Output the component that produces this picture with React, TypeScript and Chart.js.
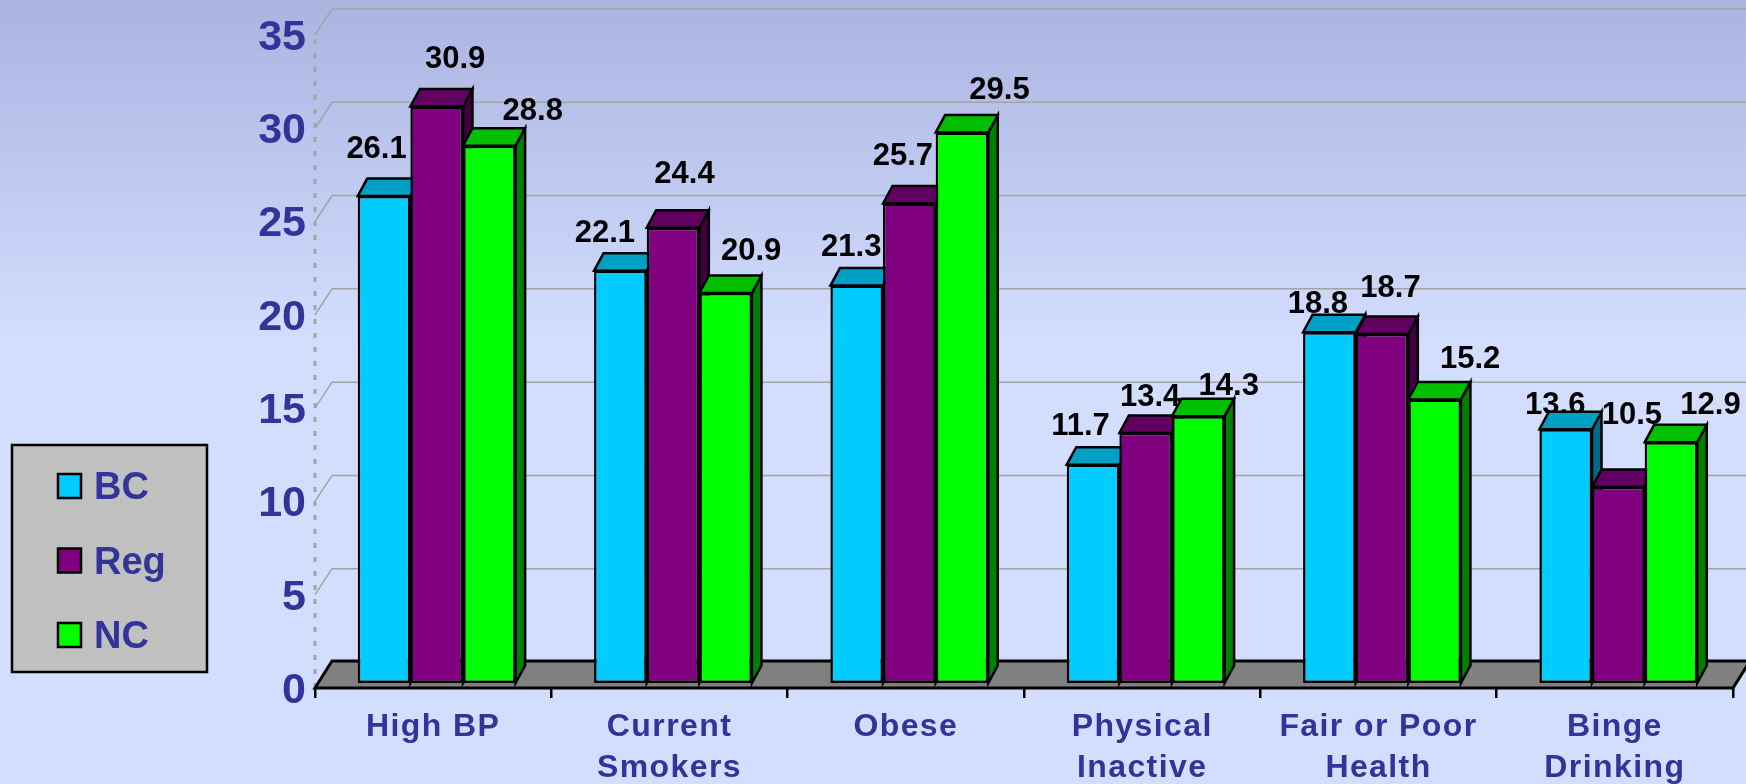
import React, { useEffect, useRef } from "react";
import { Chart, registerables } from "chart.js";

Chart.register(...registerables);

const categories = [
  "High BP",
  ["Current", "Smokers"],
  "Obese",
  ["Physical", "Inactive"],
  ["Fair or Poor", "Health"],
  ["Binge", "Drinking"],
];
const bcValues = [26.1, 22.1, 21.3, 11.7, 18.8, 13.6];
const regValues = [30.9, 24.4, 25.7, 13.4, 18.7, 10.5];
const ncValues = [28.8, 20.9, 29.5, 14.3, 15.2, 12.9];

// Hand-placed data label offsets from each bar's top centre, as in the source.
const bcLabelOffsets = [[-8, -48], [-16, -38], [-6, -39], [-13, -39], [-12, -29], [-11, -25]];
const regLabelOffsets = [[18, -48], [11, -54], [-7, -48], [4, -37], [8, -47], [13, -73]];
const ncLabelOffsets = [[43, -35], [25, -43], [37, -43], [30, -31], [35, -41], [39, -38]];

const FONT = "'Liberation Sans', Arial, sans-serif";
const INK = "#333399";
const WIDTH = 1746;
const HEIGHT = 784;

const series = [
  { label: "BC", data: bcValues, front: "#00CCFF", top: "#009FC4", side: "#006A85", offsets: bcLabelOffsets },
  { label: "Reg", data: regValues, front: "#800080", top: "#600060", side: "#400040", offsets: regLabelOffsets },
  { label: "NC", data: ncValues, front: "#00FF00", top: "#00BF00", side: "#008000", offsets: ncLabelOffsets },
];

const WALL = { dx: 17, dy: 26 };
const FLOOR_DY = 27;
const BAR_SHIFT = { dx: 3.5, dy: 5 };
const BAR_DEPTH = { dx: 9.5, dy: 17.5 };
const LABEL_SHIFT = { dx: 4, dy: -4 };

function poly(ctx: CanvasRenderingContext2D, pts: number[][], fill: string, stroke = "#000", lw = 2.5) {
  ctx.beginPath();
  pts.forEach(([x, y], i) => (i ? ctx.lineTo(x, y) : ctx.moveTo(x, y)));
  ctx.closePath();
  ctx.fillStyle = fill;
  ctx.fill();
  ctx.lineWidth = lw;
  ctx.strokeStyle = stroke;
  ctx.lineJoin = "miter";
  ctx.stroke();
}

const scene3d = {
  id: "scene3d",
  beforeDraw(chart: any) {
    const { ctx } = chart;
    ctx.save();
    const g = ctx.createLinearGradient(0, 0, 0, 345);
    g.addColorStop(0, "#ABB3E0");
    g.addColorStop(1, "#D3DEFF");
    ctx.fillStyle = g;
    ctx.fillRect(0, 0, WIDTH, HEIGHT);
    ctx.restore();

    // legend panel
    ctx.save();
    ctx.fillStyle = "#C0C0C0";
    ctx.strokeStyle = "#000";
    ctx.lineWidth = 2.5;
    ctx.fillRect(12, 445, 195, 227);
    ctx.strokeRect(12, 445, 195, 227);
    chart.data.datasets.forEach((ds: any, i: number) => {
      const cy = 486 + i * 74.5;
      ctx.fillStyle = ds.backgroundColor;
      ctx.fillRect(58, cy - 12, 23, 24);
      ctx.strokeRect(58, cy - 12, 23, 24);
      ctx.fillStyle = INK;
      ctx.font = `bold 38px ${FONT}`;
      ctx.textBaseline = "alphabetic";
      ctx.textAlign = "left";
      ctx.fillText(ds.label, 94, cy + 13);
    });
    ctx.restore();
  },
  beforeDatasetsDraw(chart: any) {
    const { ctx, chartArea: a, scales } = chart;
    const y = scales.y;
    const x0 = a.left;
    const x1 = a.right;
    const y0 = y.getPixelForValue(0);
    ctx.save();

    // back wall gridlines with their diagonal returns
    ctx.strokeStyle = "#A3A3A3";
    ctx.lineWidth = 1.5;
    y.ticks.forEach((t: any) => {
      if (t.value === 0) return;
      const p = y.getPixelForValue(t.value);
      ctx.beginPath();
      ctx.moveTo(x0, p);
      ctx.lineTo(x0 + WALL.dx, p - WALL.dy);
      ctx.lineTo(x1 + WALL.dx, p - WALL.dy);
      ctx.stroke();
    });

    // dotted value axis
    ctx.save();
    ctx.strokeStyle = "#A3A3A3";
    ctx.lineWidth = 3;
    ctx.setLineDash([5, 9]);
    ctx.beginPath();
    ctx.moveTo(x0, y0);
    ctx.lineTo(x0, y.getPixelForValue(35));
    ctx.stroke();
    ctx.restore();

    // floor
    poly(ctx, [[x0, y0], [x0 + WALL.dx, y0 - FLOOR_DY], [x1 + WALL.dx, y0 - FLOOR_DY], [x1, y0]], "#808080", "#000", 3);

    // data labels sit behind the bars
    ctx.fillStyle = "#000";
    ctx.font = `bold 31px ${FONT}`;
    ctx.textAlign = "center";
    ctx.textBaseline = "middle";
    series.forEach((s, i) => {
      chart.getDatasetMeta(i).data.forEach((el: any, j: number) => {
        const [ox, oy] = s.offsets[j];
        ctx.fillText(s.data[j].toFixed(1), el.x + LABEL_SHIFT.dx + ox, el.y + LABEL_SHIFT.dy + oy);
      });
    });

    // bars, left to right so each covers the previous one's side
    ctx.translate(BAR_SHIFT.dx, -BAR_SHIFT.dy);
    const n = chart.data.labels.length;
    for (let j = 0; j < n; j++) {
      series.forEach((s, i) => {
        const el = chart.getDatasetMeta(i).data[j];
        const l = el.x - el.width / 2;
        const r = el.x + el.width / 2;
        const { dx, dy } = BAR_DEPTH;
        poly(ctx, [[r, el.y], [r + dx, el.y - dy], [r + dx, el.base - dy], [r, el.base]], s.side);
        poly(ctx, [[l, el.y], [l + dx, el.y - dy], [r + dx, el.y - dy], [r, el.y]], s.top);
        el.draw(ctx);
      });
    }
    ctx.restore();
    return false;
  },
};

export default function App() {
  const ref = useRef<HTMLCanvasElement>(null);
  useEffect(() => {
    const chart = new Chart(ref.current as HTMLCanvasElement, {
      type: "bar",
      data: {
        labels: categories as any,
        datasets: series.map((s) => ({
          label: s.label,
          data: s.data,
          backgroundColor: s.front,
          borderColor: "#000",
          borderWidth: 2.5,
          borderSkipped: false,
          barPercentage: 1,
          categoryPercentage: 0.668,
        })),
      },
      options: {
        responsive: false,
        animation: false,
        devicePixelRatio: 1,
        layout: { padding: { top: 35, right: 13, left: 0, bottom: 0 } },
        plugins: { legend: { display: false }, tooltip: { enabled: false }, title: { display: false } },
        scales: {
          x: {
            grid: { display: true, drawOnChartArea: false, drawTicks: true, tickLength: 10, color: "#000", lineWidth: 2.5, offset: true },
            border: { display: false },
            ticks: {
              color: INK,
              font: { family: FONT, weight: "bold", size: 32, lineHeight: 1.3 },
              autoSkip: false,
              maxRotation: 0,
              minRotation: 0,
              padding: 8,
            },
            afterFit(s: any) {
              s.height = 96;
              if (!s.__spaced) {
                s.__spaced = true;
                const orig = s.drawLabels;
                s.drawLabels = function (area: any) {
                  const c = s.ctx;
                  const prev = c.letterSpacing;
                  c.letterSpacing = "1.4px";
                  orig.call(s, area);
                  c.letterSpacing = prev;
                };
              }
            },
          },
          y: {
            min: 0,
            max: 35,
            grid: { display: false },
            border: { display: false },
            ticks: {
              stepSize: 5,
              color: INK,
              font: { family: FONT, weight: "bold", size: 43 },
              padding: 1,
              labelOffset: 3,
            },
            afterFit(s: any) {
              s.width = 315;
            },
          },
        },
      },
      plugins: [scene3d],
    } as any);
    return () => chart.destroy();
  }, []);
  return (
    <canvas
      ref={ref}
      width={WIDTH}
      height={HEIGHT}
      style={{ position: "fixed", left: 0, top: 0, width: WIDTH, height: HEIGHT, display: "block" }}
    />
  );
}
